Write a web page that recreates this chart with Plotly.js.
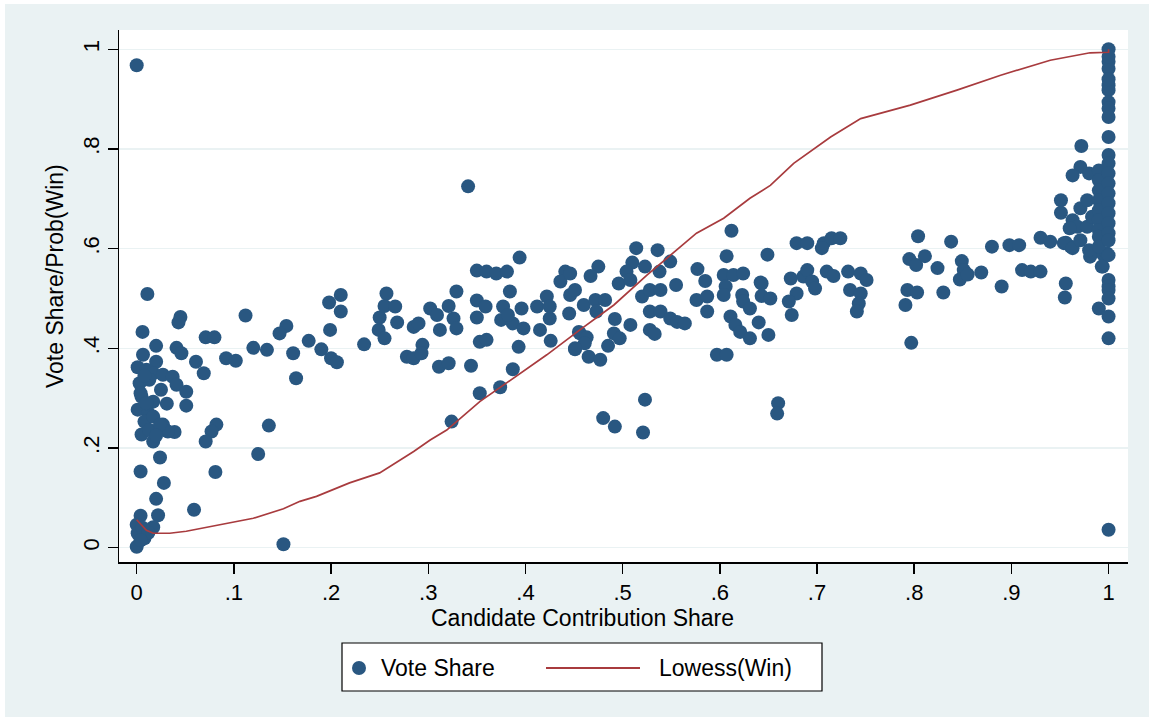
<!DOCTYPE html>
<html>
<head>
<meta charset="utf-8">
<script src="https://cdn.plot.ly/plotly-3.0.1.min.js"></script>
<style>
  html, body { margin: 0; padding: 0; background: #ffffff; }
  #chart { position: absolute; left: 5px; top: 4px; width: 1144px; height: 713px; }
</style>
</head>
<body>
<div id="chart"></div>
<script>
// ---- Vote share scatter (candidate contribution share vs vote share) ----
const voteX = [
  0.000,0.011,0.045,0.043,0.112,0.154,0.147,0.006,0.071,0.080,0.020,0.041,0.046,0.120,0.134,0.161,0.0065,0.020,0.061,0.092,
  0.102,0.069,0.164,0.001,0.010,0.017,0.027,0.037,0.003,0.013,0.025,0.041,0.051,0.005,0.017,0.031,0.051,0.001,0.012,0.008,
  0.017,0.027,0.039,0.005,0.017,0.013,0.032,0.024,0.082,0.077,0.071,0.136,0.125,0.024,0.004,0.081,0.028,0.020,0.059,0.022,
  0.004,0.000,0.017,0.001,0.008,0.000,0.151,0.008,0.004,0.010,0.020,0.006,0.012,0.004,
  0.177,0.190,0.199,0.198,0.210,0.210,0.200,0.206,0.234,0.249,0.255,0.250,0.257,0.255,0.266,0.268,0.278,0.285,0.285,0.290,
  0.294,0.293,0.302,0.309,0.321,0.329,0.312,0.311,0.321,0.326,0.329,0.324,0.344,0.341,0.350,0.360,0.370,0.381,0.394,0.350,
  0.359,0.350,0.353,0.360,0.353,0.374,0.384,0.377,0.375,0.387,0.396,0.398,0.393,0.387,0.412,0.422,0.415,0.425,0.426,0.441,
  0.436,0.446,0.445,0.451,0.455,0.382,0.425,
  0.612,0.514,0.536,0.475,0.467,0.510,0.523,0.504,0.538,0.549,0.496,0.508,0.607,0.649,0.679,0.690,0.707,0.715,0.724,0.705,
  0.577,0.585,0.555,0.604,0.614,0.624,0.606,0.604,0.642,0.673,0.686,0.690,0.695,0.698,0.710,0.717,0.732,0.745,0.751,0.734,
  0.745,0.743,0.741,0.679,0.671,0.674,0.623,0.624,0.631,0.643,0.652,0.640,0.650,0.611,0.616,0.621,0.631,0.576,0.587,0.587,
  0.597,0.607,0.523,0.480,0.492,0.521,0.660,0.659,0.451,0.446,0.460,0.472,0.482,0.473,0.492,0.508,0.520,0.528,0.539,0.528,
  0.539,0.549,0.556,0.564,0.528,0.533,0.491,0.497,0.485,0.456,0.463,0.461,0.451,0.465,0.477,0.643,
  0.804,0.838,0.795,0.802,0.811,0.824,0.849,0.851,0.847,0.855,0.869,0.880,0.898,0.908,0.911,0.920,0.930,0.890,0.793,0.803,
  0.791,0.830,0.797,0.930,0.940,0.951,0.951,0.956,0.955,0.954,0.961,0.990,0.994,0.985,0.981,0.995,0.972,0.971,0.963,0.980,
  0.971,0.978,0.963,0.968,0.960,0.978,0.983,0.956,0.963,0.971,0.980,0.998,0.993,
  0.990,0.990,0.990,0.990,0.990,0.990,0.990,0.990,0.990,
  1.000,1.000,1.000,1.000,1.000,1.000,1.000,1.000,1.000,1.000,1.000,1.000,1.000,1.000,1.000,1.000,1.000,1.000,1.000,1.000,
  1.000,1.000,1.000,1.000,1.000,1.000,1.000,1.000,1.000
];
const voteY = [
  0.968,0.509,0.463,0.452,0.466,0.445,0.430,0.433,0.422,0.422,0.405,0.401,0.390,0.401,0.397,0.390,0.387,0.373,0.373,0.380,
  0.375,0.350,0.340,0.362,0.357,0.350,0.347,0.343,0.330,0.337,0.317,0.327,0.313,0.303,0.293,0.289,0.285,0.277,0.270,0.253,
  0.263,0.247,0.232,0.227,0.213,0.236,0.233,0.247,0.247,0.233,0.213,0.245,0.188,0.181,0.153,0.152,0.130,0.098,0.076,0.065,
  0.064,0.046,0.041,0.029,0.019,0.002,0.007,0.345,0.310,0.290,0.225,0.040,0.030,0.015,
  0.415,0.398,0.437,0.492,0.507,0.474,0.380,0.372,0.408,0.437,0.420,0.462,0.510,0.485,0.484,0.452,0.383,0.380,0.443,0.450,
  0.407,0.390,0.480,0.467,0.485,0.514,0.437,0.363,0.370,0.460,0.440,0.253,0.365,0.725,0.556,0.554,0.550,0.554,0.582,0.496,
  0.484,0.462,0.413,0.417,0.310,0.322,0.514,0.484,0.457,0.450,0.480,0.440,0.403,0.358,0.484,0.504,0.437,0.460,0.415,0.554,
  0.534,0.507,0.470,0.398,0.433,0.467,0.484,
  0.636,0.601,0.597,0.564,0.545,0.572,0.564,0.554,0.554,0.574,0.530,0.537,0.585,0.588,0.611,0.611,0.611,0.621,0.621,0.601,
  0.559,0.535,0.527,0.547,0.547,0.550,0.524,0.507,0.532,0.540,0.544,0.557,0.534,0.520,0.554,0.545,0.554,0.550,0.537,0.517,
  0.510,0.490,0.474,0.510,0.494,0.467,0.507,0.494,0.480,0.505,0.500,0.452,0.427,0.464,0.447,0.433,0.420,0.497,0.504,0.474,
  0.387,0.387,0.297,0.260,0.243,0.231,0.290,0.269,0.517,0.550,0.487,0.497,0.497,0.474,0.459,0.447,0.504,0.517,0.517,0.474,
  0.474,0.460,0.453,0.450,0.437,0.429,0.430,0.420,0.405,0.430,0.422,0.410,0.400,0.383,0.377,0.530,
  0.625,0.614,0.579,0.567,0.585,0.561,0.575,0.557,0.538,0.548,0.552,0.604,0.607,0.607,0.557,0.554,0.554,0.524,0.517,0.512,
  0.487,0.512,0.411,0.622,0.614,0.697,0.672,0.530,0.502,0.611,0.604,0.480,0.564,0.594,0.584,0.587,0.806,0.764,0.747,0.751,
  0.681,0.697,0.657,0.644,0.641,0.644,0.664,0.612,0.601,0.617,0.597,0.591,0.564,
  0.757,0.737,0.717,0.697,0.677,0.657,0.637,0.624,0.604,
  1.000,0.975,0.961,0.928,0.918,0.894,0.881,0.864,0.824,0.788,0.771,0.751,0.731,0.711,0.691,0.671,0.651,0.631,0.617,0.587,
  0.537,0.524,0.517,0.500,0.464,0.420,0.036,0.940,0.985
];

// ---- Lowess(Win) smoothed curve ----
const lowessX = [0.000,0.005,0.010,0.017,0.034,0.051,0.085,0.120,0.151,0.168,0.185,0.219,0.250,0.271,0.285,0.302,0.319,0.353,
  0.388,0.422,0.456,0.491,0.525,0.552,0.576,0.604,0.631,0.652,0.676,0.714,0.745,0.796,0.844,0.889,0.940,0.981,1.000,1.000];
const lowessY = [0.056,0.045,0.035,0.029,0.029,0.033,0.046,0.059,0.078,0.093,0.103,0.130,0.150,0.176,0.193,0.216,0.236,0.293,
  0.340,0.387,0.437,0.487,0.547,0.591,0.631,0.661,0.701,0.727,0.771,0.824,0.861,0.888,0.918,0.948,0.978,0.993,0.994,1.000];

// ---- Axes / labels ----
const xTickVals = [0,0.1,0.2,0.3,0.4,0.5,0.6,0.7,0.8,0.9,1];
const xTickText = ['0','.1','.2','.3','.4','.5','.6','.7','.8','.9','1'];
const yTickVals = [0,0.2,0.4,0.6,0.8,1];
const yTickText = ['0','.2','.4','.6','.8','1'];
const xTitle = 'Candidate Contribution Share';
const yTitle = 'Vote Share/Prob(Win)';
const seriesNames = ['Vote Share','Lowess(Win)'];

const NAVY = '#295781';
const MAROON = '#A83B3E';
const BG = '#EAF2F3';
const FONT = 'Liberation Sans, Arial, Helvetica, sans-serif';

const traces = [
  {
    type: 'scatter', mode: 'markers', name: seriesNames[0],
    x: voteX, y: voteY,
    marker: { color: NAVY, size: 14, line: { width: 0 } },
    showlegend: false, hoverinfo: 'x+y'
  },
  {
    type: 'scatter', mode: 'lines', name: seriesNames[1],
    x: lowessX, y: lowessY,
    line: { color: MAROON, width: 1.7 },
    showlegend: false
  }
];

// plot area (page px): x 119..1128, y 30..562
function px(X) { return (X - 119) / 1009; }
function py(Y) { return (562 - Y) / 532; }

const layout = {
  width: 1144, height: 713,
  margin: { l: 114, r: 21, t: 26, b: 155, pad: 0 },
  paper_bgcolor: BG,
  plot_bgcolor: '#ffffff',
  font: { family: FONT, size: 22, color: '#000000' },
  showlegend: false,
  xaxis: {
    range: [-0.0182, 1.0200],
    tickmode: 'array', tickvals: xTickVals, ticktext: xTickText,
    ticks: 'outside', ticklen: 10, tickwidth: 1.5, tickcolor: '#000000',
    showline: true, linecolor: '#000000', linewidth: 1.5,
    showgrid: false, zeroline: false,
    tickfont: { family: FONT, size: 22, color: '#000000' }
  },
  yaxis: {
    range: [-0.0287, 1.0387],
    tickmode: 'array', tickvals: yTickVals, ticktext: yTickText,
    ticks: 'outside', ticklen: 10, tickwidth: 1.5, tickcolor: '#000000',
    tickangle: -90,
    showline: true, linecolor: '#000000', linewidth: 1.5,
    showgrid: true, gridcolor: BG, gridwidth: 1.5,
    zeroline: false,
    tickfont: { family: FONT, size: 22, color: '#000000' }
  },
  annotations: [
    { text: xTitle, xref: 'paper', yref: 'paper', x: px(582.5), y: py(618),
      xanchor: 'center', yanchor: 'middle', showarrow: false,
      font: { family: FONT, size: 23, color: '#000000' } },
    { text: yTitle, xref: 'paper', yref: 'paper', x: px(55), y: py(276),
      xanchor: 'center', yanchor: 'middle', showarrow: false, textangle: -90,
      font: { family: FONT, size: 23, color: '#000000' } },
    { text: seriesNames[0], xref: 'paper', yref: 'paper', x: px(379), y: py(668),
      xanchor: 'left', yanchor: 'middle', showarrow: false,
      font: { family: FONT, size: 23, color: '#000000' } },
    { text: seriesNames[1], xref: 'paper', yref: 'paper', x: px(657), y: py(668),
      xanchor: 'left', yanchor: 'middle', showarrow: false,
      font: { family: FONT, size: 23, color: '#000000' } }
  ],
  shapes: [
    { type: 'rect', xref: 'paper', yref: 'paper', x0: px(342), x1: px(822), y0: py(691), y1: py(643),
      fillcolor: '#ffffff', line: { color: '#000000', width: 1.2 } },
    { type: 'circle', xref: 'paper', yref: 'paper', xsizemode: 'pixel', ysizemode: 'pixel',
      xanchor: px(359), yanchor: py(668), x0: -7, x1: 7, y0: -7, y1: 7,
      fillcolor: NAVY, line: { width: 0 } },
    { type: 'line', xref: 'paper', yref: 'paper', x0: px(546), x1: px(640), y0: py(668), y1: py(668),
      line: { color: MAROON, width: 2.2 } }
  ]
};

Plotly.newPlot('chart', traces, layout, { displayModeBar: false, staticPlot: true });
</script>
</body>
</html>
